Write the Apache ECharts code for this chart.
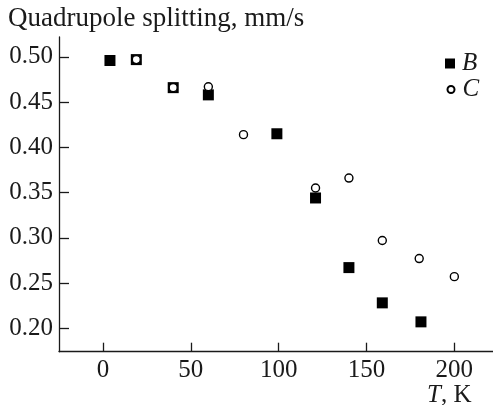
<!DOCTYPE html>
<html>
<head>
<meta charset="utf-8">
<script src="https://cdn.jsdelivr.net/npm/echarts@6/dist/echarts.min.js"></script>
<style>html,body{margin:0;padding:0;background:#fff}#c{width:493px;height:405px}</style>
</head>
<body>
<div id="c"></div>
<script>
// Data (T in K, quadrupole splitting in mm/s)
const seriesBT = [4, 19, 40, 60, 99, 121, 140, 159, 181];
const seriesBV = [0.496, 0.497, 0.466, 0.458, 0.415, 0.344, 0.267, 0.228, 0.207];
const seriesCT = [19, 40, 60, 80, 121, 140, 159, 180, 200];
const seriesCV = [0.497, 0.466, 0.467, 0.414, 0.355, 0.366, 0.297, 0.277, 0.257];
const xTicks = [0, 50, 100, 150, 200];
const yTicks = [0.20, 0.25, 0.30, 0.35, 0.40, 0.45, 0.50];
const seriesNames = ['B', 'C'];

const FONT = 'Liberation Serif';
const INK = '#1a1a1a';

const chart = echarts.init(document.getElementById('c'), null, {renderer: 'canvas'});
const zip = (a, b) => a.map((v, i) => [v, b[i]]);

chart.setOption({
  animation: false,
  backgroundColor: '#fff',
  grid: {left: 59, right: 0, top: 37, bottom: 53.3, containLabel: false},
  xAxis: {
    type: 'value', min: -25, max: 222,
    axisLine: {show: true, onZero: false, lineStyle: {color: INK, width: 1.3}},
    axisTick: {show: true, inside: true, length: 9, customValues: xTicks, lineStyle: {color: INK, width: 1.3}},
    axisLabel: {customValues: xTicks, margin: 6, color: INK, fontFamily: FONT, fontSize: 25},
    splitLine: {show: false}
  },
  yAxis: {
    type: 'value', min: 0.174, max: 0.522,
    axisLine: {show: true, onZero: false, lineStyle: {color: INK, width: 1.3}},
    axisTick: {show: true, inside: true, length: 10, customValues: yTicks, lineStyle: {color: INK, width: 1.3}},
    axisLabel: {customValues: yTicks, margin: 6, color: INK, fontFamily: FONT, fontSize: 25,
      formatter: v => v.toFixed(2)},
    splitLine: {show: false}
  },
  legend: [
    {data: [seriesNames[0]], orient: 'vertical', left: 440, top: 46, itemWidth: 10, itemHeight: 10,
     icon: 'rect', textStyle: {fontFamily: FONT, fontSize: 25, fontStyle: 'italic', color: INK, padding: [0,0,0,2]}},
    {data: [seriesNames[1]], orient: 'vertical', left: 441.5, top: 72, itemWidth: 7, itemHeight: 7,
     icon: 'circle', textStyle: {fontFamily: FONT, fontSize: 25, fontStyle: 'italic', color: INK, padding: [0,0,0,3]}}
  ],
  graphic: [
    {type: 'text', left: 8, top: 5, style: {text: 'Quadrupole splitting, mm/s', font: '27px "Liberation Serif"', fill: INK}},
    {type: 'text', left: 427, top: 383, style: {
      text: '{i|T}{n|, K}',
      rich: {i: {fontFamily: FONT, fontStyle: 'italic', fontSize: 25, fill: INK},
             n: {fontFamily: FONT, fontSize: 25, fill: INK}}
    }}
  ],
  series: [
    {name: seriesNames[0], type: 'scatter', symbol: 'rect', symbolSize: 11,
     itemStyle: {color: '#000', opacity: 1}, data: zip(seriesBT, seriesBV)},
    {name: seriesNames[1], type: 'scatter', symbol: 'circle', symbolSize: 8,
     itemStyle: {color: '#fff', borderColor: '#000', borderWidth: 1.4, opacity: 1}, data: zip(seriesCT, seriesCV)}
  ]
});
</script>
</body>
</html>
